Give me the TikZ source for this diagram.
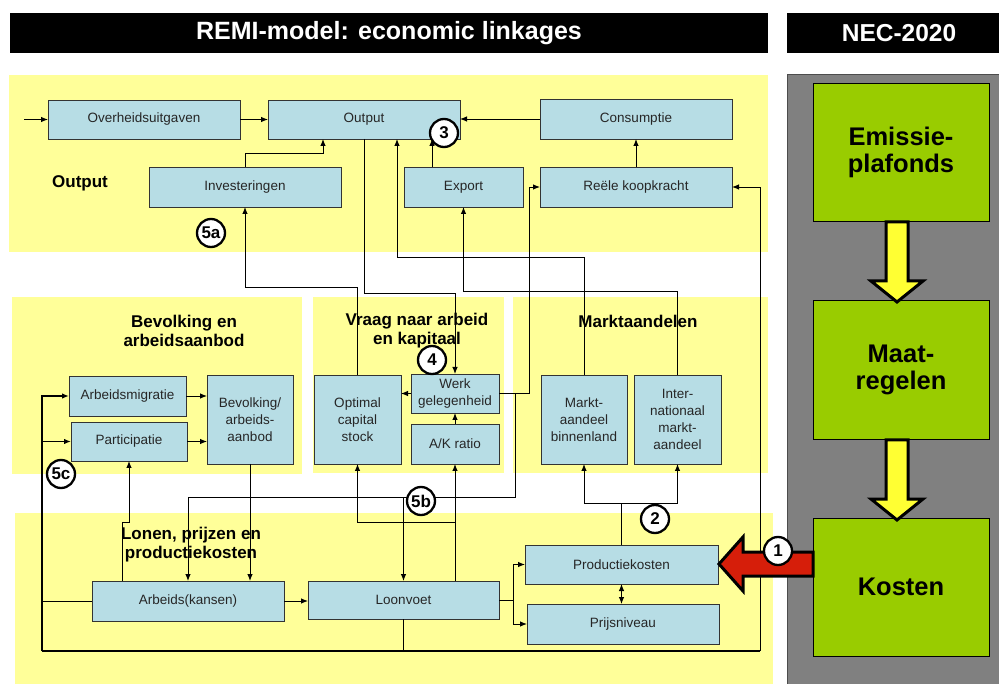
\documentclass[tikz,border=0pt]{standalone}
\usepackage{fontspec}
\setmainfont{Liberation Sans}
\usetikzlibrary{arrows.meta}
\definecolor{panel}{RGB}{255,255,153}
\definecolor{boxblue}{RGB}{183,221,229}
\definecolor{grn}{RGB}{153,204,0}
\definecolor{gry}{RGB}{128,128,128}
\definecolor{redarr}{RGB}{214,30,10}
\definecolor{yelarr}{RGB}{255,255,51}
\begin{document}
\begin{tikzpicture}[x=1pt,y=-1pt,
  bx/.style={draw=black!80, fill=boxblue, line width=0.9pt, inner sep=0pt, outer sep=0pt,
    align=center, font=\fontsize{13.5}{17}\selectfont, text=black!85},
  gbox/.style={draw=black, fill=grn, line width=0.9pt, inner sep=0pt, outer sep=0pt,
    minimum width=176pt, align=center, font=\bfseries\fontsize{25.5}{27}\selectfont},
  circ/.style={circle, draw=black, line width=2.3pt, fill=white, minimum size=28pt,
    inner sep=0pt, font=\bfseries\fontsize{17}{17}\selectfont},
  lbl/.style={font=\bfseries\fontsize{17}{19}\selectfont, align=center, inner sep=0pt},
  ttl/.style={font=\bfseries\fontsize{25}{25}\selectfont, text=white, inner sep=0pt},
  line/.style={draw=black, line width=0.9pt},
  arr/.style={line, -{Latex[length=7pt,width=5.5pt]}},
  darr/.style={line, {Latex[length=7pt,width=5.5pt]}-{Latex[length=7pt,width=5.5pt]}},
  bus/.style={line, line width=1.4pt},
  bigarrow/.style={line width=3pt, draw=black, line join=miter}]
\useasboundingbox (0,0) rectangle (999,684);
\fill[white] (0,0) rectangle (999,684);
% panels
\fill[panel] (9,75) rectangle (768,252);
\fill[panel] (12,297) rectangle (302,474);
\fill[panel] (313,297) rectangle (504,473);
\fill[panel] (513,297) rectangle (768,473);
\fill[panel] (15,513) rectangle (773,684);
% title bars
\fill[black] (10,13) rectangle (768,53);
\fill[black] (787,13) rectangle (999,53);
\node[ttl] (t1) at (389,33) {REMI-model: economic linkages};
\node[ttl, font=\bfseries\fontsize{24.5}{25}\selectfont] (t2) at (899,33) {NEC-2020};
% grey panel
\filldraw[fill=gry, draw=black!70, line width=1pt] (787,75) rectangle (1000,685);
% green boxes
\node[gbox, minimum height=138pt] (g1) at (901,152) {Emissie-\\plafonds};
\node[gbox, minimum height=139pt] (g2) at (901,369.5) {Maat-\\regelen};
\node[gbox, minimum height=138pt] (g3) at (901,587) {Kosten};
% yellow arrows
\filldraw[fill=yelarr, bigarrow] (886,222) -- (908,222) -- (908,281) -- (923,281) -- (897,302) -- (871,281) -- (886,281) -- cycle;
\filldraw[fill=yelarr, bigarrow] (886,440) -- (908,440) -- (908,499) -- (923,499) -- (897,520) -- (871,499) -- (886,499) -- cycle;
% panel labels
\node[lbl] (lo) at (80,183) {Output};
\node[lbl] (lb) at (184,330.5) {Bevolking en\\arbeidsaanbod};
\node[lbl] (lv) at (417,330.5) {Vraag naar arbeid\\en kapitaal};
\node[lbl] (lm) at (638,321) {Marktaandelen};
\node[lbl] (ll) at (191,545) {Lonen, prijzen en\\productiekosten};
% boxes
\node[bx, minimum width=192pt, minimum height=39pt] (ovh) at (144,119.5) {Overheidsuitgaven};
\node[bx, minimum width=192pt, minimum height=39pt] (out) at (364,119.5) {Output};
\node[bx, minimum width=192pt, minimum height=40pt] (con) at (636,119) {Consumptie};
\node[bx, minimum width=192pt, minimum height=40pt] (inv) at (245,187) {Investeringen};
\node[bx, minimum width=119pt, minimum height=40pt] (exp) at (463.5,187) {Export};
\node[bx, minimum width=192pt, minimum height=40pt] (rk) at (636,187) {Reële koopkracht};
\node[bx, minimum width=117pt, minimum height=40pt] (am) at (127.5,396) {Arbeidsmigratie};
\node[bx, minimum width=116pt, minimum height=39pt] (par) at (129,441.5) {Participatie};
\node[bx, minimum width=86pt, minimum height=89pt] (bev) at (250,419.5) {Bevolking/\\arbeids-\\aanbod};
\node[bx, minimum width=87pt, minimum height=89pt] (ocs) at (357.5,419.5) {Optimal\\capital\\stock};
\node[bx, minimum width=88pt, minimum height=39pt] (werk) at (455,393.5) {Werk\\gelegenheid};
\node[bx, minimum width=88pt, minimum height=40pt] (ak) at (455,444) {A/K ratio};
\node[bx, minimum width=86pt, minimum height=89pt] (mab) at (584,419.5) {Markt-\\aandeel\\binnenland};
\node[bx, minimum width=87pt, minimum height=89pt] (ima) at (677.5,419.5) {Inter-\\nationaal\\markt-\\aandeel};
\node[bx, minimum width=192pt, minimum height=40pt] (akn) at (188,601) {Arbeids(kansen)};
\node[bx, minimum width=191pt, minimum height=38pt] (loon) at (403.5,600) {Loonvoet};
\node[bx, minimum width=193pt, minimum height=39pt] (prod) at (621.5,564.5) {Productiekosten};
\node[bx, minimum width=192pt, minimum height=40pt] (prijs) at (623,624) {Prijsniveau};
% helper coordinates
\coordinate (ovin) at (24,119.5);
\coordinate (y153) at (0,153);
\coordinate (x323) at (323,0);
\coordinate (x432) at (432,0);
\coordinate (x397) at (397,0);
\coordinate (y257) at (0,257);
\coordinate (y287) at (0,287);
\coordinate (y291) at (0,291);
\coordinate (y293) at (0,293);
\coordinate (x529) at (529,0);
\coordinate (w1) at (515,497);
\coordinate (w2) at (188,497);
\coordinate (y522) at (0,522);
\coordinate (x122) at (122,0);
\coordinate (y503) at (0,503);
\coordinate (x513) at (513,0);
\coordinate (busL) at (42,651);
\coordinate (busR) at (760,651);
% connectors
\draw[arr] (ovin) -- (ovh.west);
\draw[arr] (ovh.east) -- (out.west);
\draw[arr] (con.west) -- (con.west -| out.east);
\draw[arr] (inv.north) -- (inv.north |- y153) -| (out.south -| x323);
\draw[arr] (exp.north -| x432) -- (out.south -| x432);
\draw[arr] (rk.north) -- (con.south);
\draw[arr] (ocs.north) -- (ocs.north |- y287) -| (inv.south);
\draw[arr] (out.south) -- (out.south |- y293) -| (werk.north);
\draw[arr] (mab.north) -- (mab.north |- y257) -| (out.south -| x397);
\draw[arr] (ima.north) -- (ima.north |- y291) -| (exp.south);
\draw[arr] (werk.east) -- (werk.east -| x529) |- (rk.west);
\draw[line] (werk.east -| w1) -- (w1) -- (w2);
\draw[arr] (w2) -- (w2 |- akn.north);
\draw[arr] (loon.north |- w1) -- (loon.north);
\draw[arr] (loon.north -| ak.south) -- (ak.south);
\draw[arr] (ak.south |- y522) -| (ocs.south);
\draw[arr] (bev.south) -- (bev.south |- akn.north);
\draw[arr] (akn.north -| x122) -- (x122 |- y522) -| (par.south);
\draw[arr] (am.east) -- (am.east -| bev.west);
\draw[arr] (par.east) -- (par.east -| bev.west);
\draw[arr] (werk.west) -- (werk.west -| ocs.east);
\draw[arr] (ak.north) -- (werk.south);
\draw[line] (prod.north) -- (prod.north |- y503);
\draw[line] (mab.south |- y503) -- (ima.south |- y503);
\draw[arr] (mab.south |- y503) -- (mab.south);
\draw[arr] (ima.south |- y503) -- (ima.south);
\draw[line] (loon.east) -- (loon.east -| x513);
\draw[arr] (loon.east -| x513) |- (prod.west);
\draw[arr] (loon.east -| x513) |- (prijs.west);
\draw[darr] (prod.south) -- (prod.south |- prijs.north);
\draw[arr] (akn.east) -- (akn.east -| loon.west);
\draw[line] (loon.south) -- (loon.south |- busL);
\draw[bus] (busL) -- (busR);
\draw[arr] (busR) |- (rk.east);
\draw[arr, line width=1.4pt] (busL) |- (am.west);
\draw[arr, line width=1.4pt] (busL) |- (par.west);
\draw[line] (busL) |- (akn.west);
% red arrow
\filldraw[fill=redarr, bigarrow] (g3.west |- 0,552) -- (743,552) -- (743,537) -- (719,564) -- (743,591) -- (743,576) -- (g3.west |- 0,576) -- cycle;
% circles
\node[circ] (c1) at (778,551) {1};
\node[circ] (c2) at (655,519) {2};
\node[circ] (c3) at (444,133) {3};
\node[circ] (c4) at (432,360) {4};
\node[circ] (c5a) at (211,233) {5a};
\node[circ] (c5b) at (421,501) {5b};
\node[circ] (c5c) at (61,474) {5c};
\end{tikzpicture}
\end{document}
